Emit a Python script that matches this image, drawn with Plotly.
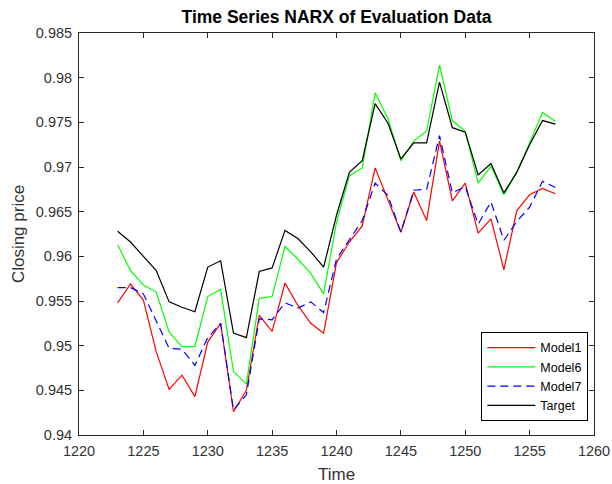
import plotly.graph_objects as go

time = list(range(1223, 1258))

target = [0.9628, 0.9616, 0.9600, 0.9584, 0.9549, 0.9543, 0.9538, 0.9588, 0.9595, 0.9514,
          0.9509, 0.9583, 0.9587, 0.9629, 0.9620, 0.9605, 0.9588, 0.9646, 0.9694, 0.9707,
          0.9771, 0.9749, 0.9709, 0.9727, 0.9727, 0.9795, 0.9744, 0.9739, 0.9691, 0.9704,
          0.9671, 0.9694, 0.9725, 0.9752, 0.9748]

model6 = [0.9613, 0.9584, 0.9568, 0.9560, 0.9515, 0.9499, 0.9499, 0.9555, 0.9563, 0.9471,
          0.9457, 0.9553, 0.9555, 0.9611, 0.9597, 0.9581, 0.9558, 0.9638, 0.9690, 0.9699,
          0.9783, 0.9754, 0.9707, 0.9729, 0.9740, 0.9814, 0.9752, 0.9740, 0.9682, 0.9701,
          0.9669, 0.9694, 0.9727, 0.9761, 0.9751]

model1 = [0.9548, 0.9569, 0.9551, 0.9493, 0.9451, 0.9467, 0.9443, 0.9504, 0.9525, 0.9426,
          0.9450, 0.9534, 0.9516, 0.9570, 0.9545, 0.9525, 0.9514, 0.9593, 0.9616, 0.9634,
          0.9699, 0.9664, 0.9627, 0.9672, 0.9640, 0.9729, 0.9662, 0.9682, 0.9626, 0.9642,
          0.9585, 0.9651, 0.9669, 0.9676, 0.9670]

model7 = [0.9565, 0.9565, 0.9558, 0.9528, 0.9497, 0.9496, 0.9478, 0.9509, 0.9525, 0.9428,
          0.9445, 0.9530, 0.9529, 0.9548, 0.9542, 0.9549, 0.9537, 0.9597, 0.9619, 0.9640,
          0.9682, 0.9668, 0.9627, 0.9674, 0.9675, 0.9735, 0.9671, 0.9678, 0.9636, 0.9661,
          0.9618, 0.9639, 0.9655, 0.9684, 0.9677]

x_ticks = [1220, 1225, 1230, 1235, 1240, 1245, 1250, 1255, 1260]
y_ticks = [0.94, 0.945, 0.95, 0.955, 0.96, 0.965, 0.97, 0.975, 0.98, 0.985]
y_tick_text = ["0.94", "0.945", "0.95", "0.955", "0.96", "0.965", "0.97", "0.975", "0.98", "0.985"]

FONT = "Liberation Sans, Arial, sans-serif"
AX = "#262626"
TXT = "#333333"

fig = go.Figure()
fig.add_trace(go.Scatter(x=time, y=model1, mode="lines", name="Model1",
                         line=dict(color="#FF0000", width=1.2)))
fig.add_trace(go.Scatter(x=time, y=model6, mode="lines", name="Model6",
                         line=dict(color="#00FF00", width=1.2)))
fig.add_trace(go.Scatter(x=time, y=model7, mode="lines", name="Model7",
                         line=dict(color="#0000FF", width=1.2, dash="8px,5px")))
fig.add_trace(go.Scatter(x=time, y=target, mode="lines", name="Target",
                         line=dict(color="#000000", width=1.2)))

axis_common = dict(
    showline=True, linecolor=AX, linewidth=1, mirror="ticks",
    ticks="inside", ticklen=5, tickcolor=AX, tickwidth=1,
    showgrid=False, zeroline=False, automargin=False,
    tickfont=dict(family=FONT, size=14.5, color=TXT),
)

W, H = 612, 484
L, R, T, B = 79, 18, 33, 49
fig.update_layout(
    width=W, height=H,
    margin=dict(l=L, r=R, t=T, b=B),
    paper_bgcolor="white", plot_bgcolor="white",
    font=dict(family=FONT, color=AX),
    title=dict(text="<b>Time Series NARX of Evaluation Data</b>",
               font=dict(family=FONT, size=17.5, color="#000000"),
               x=(L + W - R) / 2 / W, xanchor="center", y=1 - 17 / H, yanchor="middle"),
    xaxis=dict(range=[1220, 1260], tickvals=x_ticks,
               ticklabelstandoff=3,
               **axis_common),
    yaxis=dict(range=[0.94, 0.985], tickvals=y_ticks, ticktext=y_tick_text,
               title=dict(text="Closing price", font=dict(family=FONT, size=17, color=TXT), standoff=6),
               ticklabelstandoff=3,
               **axis_common),
    legend=dict(x=0.989, y=0.035, xanchor="right", yanchor="bottom",
                bgcolor="white", bordercolor="#000000", borderwidth=1,
                font=dict(family=FONT, size=12.5, color="#000000"),
                tracegroupgap=0, itemwidth=48),
    showlegend=True,
    annotations=[dict(text="Time", xref="paper", yref="paper", x=0.5, y=0,
                      xanchor="center", yanchor="middle", yshift=-39, showarrow=False,
                      font=dict(family=FONT, size=17, color=TXT))],
)

fig.write_html("out.html",
               config={"displayModeBar": False},
               post_script="document.body.style.margin='0';document.body.style.overflow='hidden';")
